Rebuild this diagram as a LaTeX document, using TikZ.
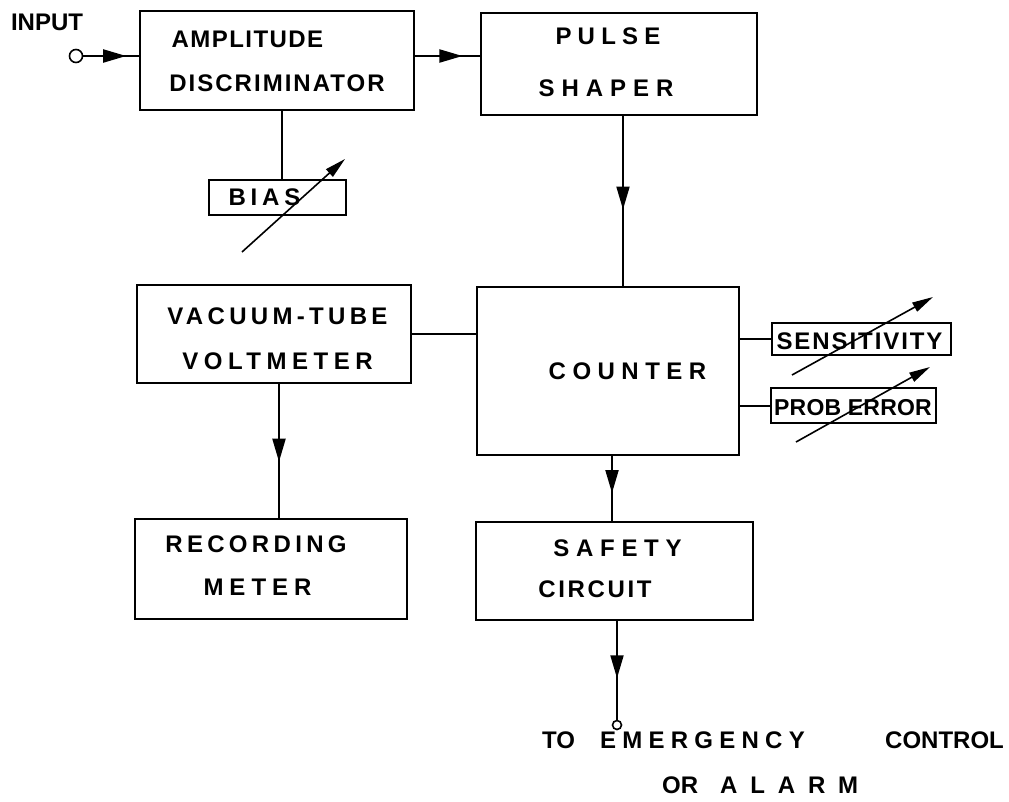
\documentclass[tikz,border=0pt]{standalone}
\usepackage{fontspec}
\setmainfont{Liberation Sans}
\usetikzlibrary{arrows.meta,decorations.markings}
\newcommand{\lsp}[2]{{\addfontfeature{LetterSpace=#1}#2}}
\begin{document}
\begin{tikzpicture}[x=1pt,y=-1pt,
  box/.style={draw, line width=2pt, inner sep=0pt},
  txt/.style={inner sep=0pt, font=\fontsize{24}{26}\selectfont\bfseries},
  smalltxt/.style={inner sep=0pt, font=\fontsize{23}{26}\selectfont\bfseries},
  wire/.style={line width=2pt},
  flow/.style={line width=2pt, postaction={decorate},
    decoration={markings, mark=at position #1 with {\arrow{Triangle[length=23pt,width=13pt]}}}},
  knob/.style={line width=1.6pt, -{Triangle[length=21pt,width=10pt]}},
  term/.style={draw, circle, line width=1.6pt, fill=white, inner sep=0pt}]
\useasboundingbox (0,0) rectangle (1009,801);
% boxes
\node[box, minimum width=274pt, minimum height=99pt] (amp) at (277,60.5) {};
\node[box, minimum width=276pt, minimum height=102pt] (pulse) at (619,64) {};
\node[box, minimum width=137pt, minimum height=35pt] (bias) at (277.5,197.5) {};
\node[box, minimum width=274pt, minimum height=98pt] (vtvm) at (274,334) {};
\node[box, minimum width=262pt, minimum height=168pt] (counter) at (608,371) {};
\node[box, minimum width=179pt, minimum height=32pt] (sens) at (861.5,339) {};
\node[box, minimum width=165pt, minimum height=35pt] (prob) at (853.5,405.5) {};
\node[box, minimum width=272pt, minimum height=100pt] (rec) at (271,569) {};
\node[box, minimum width=277pt, minimum height=98pt] (safety) at (614.5,571) {};
% terminals
\node[term, minimum size=13pt] (in) at (76,56) {};
\node[term, minimum size=9pt] (out) at (617,725) {};
% texts
\node[txt] (tin) at (47,22.5) {INPUT};
\node[txt] (t1) at (247.5,39) {\lsp{6}{AMPLITUDE}};
\node[txt] (t2) at (277,83.5) {\lsp{8.4}{DISCRIMINATOR}};
\node[txt] (t3) at (608,36) {\lsp{26}{PULSE}};
\node[txt] (t4) at (606,88.5) {\lsp{29}{SHAPER}};
\node[txt] (t5) at (264.5,197) {\lsp{20}{BIAS}};
\node[txt] (t6) at (277.5,316) {\lsp{18}{VACUUM-TUBE}};
\node[txt] (t7) at (277.5,361) {\lsp{23}{VOLTMETER}};
\node[txt] (t8) at (256,544) {\lsp{18}{RECORDING}};
\node[txt] (t9) at (257.5,587.5) {\lsp{25}{METER}};
\node[txt] (t10) at (627.5,371.5) {\lsp{27}{COUNTER}};
\node[txt] (t11) at (859.5,341) {\lsp{8}{SENSITIVITY}};
\node[smalltxt] (t12) at (853,407.5) {\lsp{1}{PROB ERROR}};
\node[txt] (t13) at (617.5,548.5) {\lsp{28}{SAFETY}};
\node[txt] (t14) at (595,589.5) {\lsp{11}{CIRCUIT}};
\node[txt, anchor=north west, align=left] (t15) at (542,732)
  {\rlap{TO}\hspace{58pt}\rlap{\lsp{26}{EMERGENCY}}\hspace{285pt}CONTROL\\[19pt]
   \hspace{120pt}\rlap{OR}\hspace{58pt}\lsp{53.5}{ALARM}};
% connectors
\draw[flow=0.77] (in.east) -- (in -| amp.west);
\draw[flow=0.73] (amp.east |- in) -- (pulse.west |- in);
\draw[wire] ([xshift=5pt]amp.south) -- ([xshift=5pt]amp.south |- bias.north);
\draw[flow=0.55] ([xshift=4pt]pulse.south) -- ([xshift=4pt]pulse.south |- counter.north);
\draw[wire] (vtvm.east) -- (vtvm.east -| counter.west);
\draw[flow=0.58] ([xshift=5pt]vtvm.south) -- ([xshift=5pt]vtvm.south |- rec.north);
\draw[wire] (sens.west -| counter.east) -- (sens.west);
\draw[wire] (prob.west -| counter.east) -- (prob.west);
\draw[flow=0.57] ([xshift=4pt]counter.south) -- ([xshift=4pt]counter.south |- safety.north);
\draw[flow=0.58] ([xshift=2.5pt]safety.south) -- (out.north);
% adjustment arrows
\draw[knob] (242,252) -- (345,159);
\draw[knob] (792,375) -- (933,297);
\draw[knob] (796,442) -- (930,367);
\end{tikzpicture}
\end{document}
